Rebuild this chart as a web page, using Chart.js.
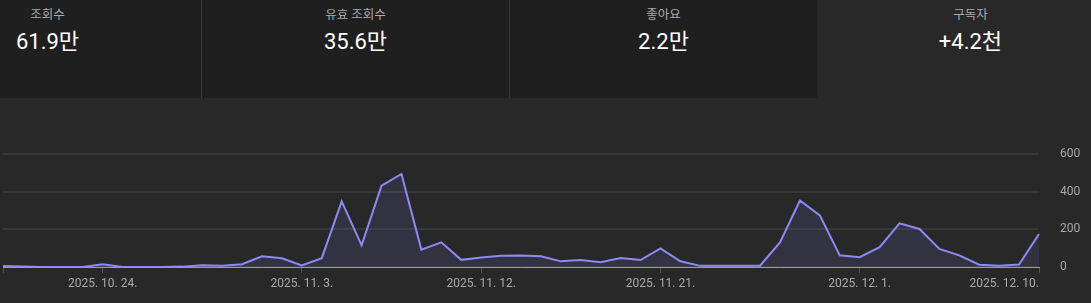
<!DOCTYPE html>
<html>
<head>
<meta charset="utf-8">
<script src="https://cdn.jsdelivr.net/npm/chart.js@4.4.1/dist/chart.umd.min.js"></script>
<style>
  html, body { margin: 0; padding: 0; }
  body { width: 1091px; height: 303px; background: #282828; position: relative; overflow: hidden;
         font-family: Roboto, "Noto Sans CJK KR", sans-serif; }
  .card { position: absolute; top: 0; height: 98px; width: 307px; background: #1f1f1f;
          border-right: 1px solid #3a3a3a; text-align: center; }
  .card.sel { background: #282828; border-right: none; }
  .lbl { position: absolute; left: 0; right: 0; top: 6px; font-size: 12.5px; color: #aaaaaa; line-height: 18px; }
  .val { position: absolute; left: 0; right: 0; top: 27px; font-size: 22px; color: #ffffff; line-height: 30px; }
  #wrap { position: absolute; left: -1px; top: 100px; width: 1092px; height: 203px; }
</style>
</head>
<body>
<div class="card" style="left:-106px"><div class="lbl">조회수</div><div class="val">61.9만</div></div>
<div class="card" style="left:202px"><div class="lbl">유효 조회수</div><div class="val">35.6만</div></div>
<div class="card" style="left:510px"><div class="lbl">좋아요</div><div class="val">2.2만</div></div>
<div class="card sel" style="left:817px"><div class="lbl">구독자</div><div class="val">+4.2천</div></div>
<div id="wrap"><canvas id="c"></canvas></div>
<script>
// Dates 2025.10.19 .. 2025.12.10 (daily)
const dates = [
  "2025. 10. 19.","2025. 10. 20.","2025. 10. 21.","2025. 10. 22.","2025. 10. 23.","2025. 10. 24.","2025. 10. 25.","2025. 10. 26.","2025. 10. 27.","2025. 10. 28.","2025. 10. 29.","2025. 10. 30.","2025. 10. 31.",
  "2025. 11. 1.","2025. 11. 2.","2025. 11. 3.","2025. 11. 4.","2025. 11. 5.","2025. 11. 6.","2025. 11. 7.","2025. 11. 8.","2025. 11. 9.","2025. 11. 10.",
  "2025. 11. 11.","2025. 11. 12.","2025. 11. 13.","2025. 11. 14.","2025. 11. 15.","2025. 11. 16.","2025. 11. 17.","2025. 11. 18.","2025. 11. 19.","2025. 11. 20.",
  "2025. 11. 21.","2025. 11. 22.","2025. 11. 23.","2025. 11. 24.","2025. 11. 25.","2025. 11. 26.","2025. 11. 27.","2025. 11. 28.","2025. 11. 29.","2025. 11. 30.",
  "2025. 12. 1.","2025. 12. 2.","2025. 12. 3.","2025. 12. 4.","2025. 12. 5.","2025. 12. 6.","2025. 12. 7.","2025. 12. 8.","2025. 12. 9.","2025. 12. 10."
];
const views = [
  5, 3, 0, 0, 0, 15, 0, 0, 0, 2, 9, 7, 15,
  57, 46, 8, 47, 348, 115, 432, 494, 92, 131,
  38, 50, 60, 61, 57, 30, 37, 25, 48, 37,
  99, 30, 6, 6, 7, 7, 131, 353, 274, 62,
  52, 105, 232, 202, 96, 62, 12, 7, 13, 175
];
const shownTicks = ["2025. 10. 24.","2025. 11. 3.","2025. 11. 12.","2025. 11. 21.","2025. 12. 1.","2025. 12. 10."];
const yTicks = [0, 200, 400, 600];

new Chart(document.getElementById('c'), {
  type: 'line',
  data: {
    labels: dates,
    datasets: [{
      data: views,
      borderColor: '#8f89f8',
      backgroundColor: 'rgba(120,112,220,0.14)',
      borderWidth: 2,
      fill: 'origin',
      pointRadius: 0,
      tension: 0
    }]
  },
  options: {
    responsive: true,
    maintainAspectRatio: false,
    animation: false,
    layout: { padding: { top: 54, left: 0, right: 0, bottom: 0 } },
    plugins: { legend: { display: false }, tooltip: { enabled: false } },
    scales: {
      x: {
        type: 'category',
        offset: false,
        afterBuildTicks(scale) {
          const keep = [0];
          dates.forEach((d, i) => { if (shownTicks.includes(d)) keep.push(i); });
          scale.ticks = keep.map(i => ({ value: i }));
        },
        afterFit(scale) { scale.height = 36; },
        grid: { drawOnChartArea: false, drawTicks: true, tickLength: 6, tickColor: '#555555', tickWidth: 1 },
        border: { display: true, color: '#9c9c9c', width: 1 },
        ticks: {
          autoSkip: false, maxRotation: 0, minRotation: 0, align: 'inner', padding: 4,
          color: '#aaaaaa', font: { family: 'Roboto', size: 12 },
          callback(v) { return shownTicks.includes(dates[v]) ? dates[v] : ''; }
        }
      },
      y: {
        position: 'right',
        min: 0, max: 600,
        afterBuildTicks(scale) { scale.ticks = yTicks.map(v => ({ value: v })); },
        afterFit(scale) { scale.width = 52; },
        grid: { drawTicks: false, color: '#383838', lineWidth: 2 },
        border: { display: false },
        ticks: { padding: 21, color: '#aaaaaa', font: { family: 'Roboto', size: 12 } }
      }
    }
  }
});
</script>
</body>
</html>
